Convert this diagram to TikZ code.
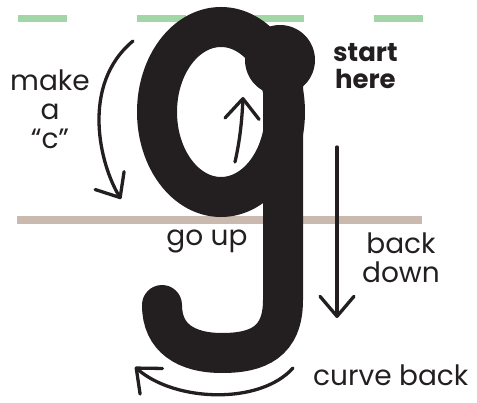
\documentclass[tikz,border=0pt]{standalone}
\usepackage{fontspec}
\setmainfont{Poppins}
\usepackage{tikz}
\usetikzlibrary{arrows.meta}
\definecolor{ink}{HTML}{231F20}
\definecolor{guidegreen}{HTML}{A3D6A7}
\definecolor{basetaupe}{HTML}{C9B9AF}

\begin{document}
\begin{tikzpicture}[
  x=1pt, y=-1pt,
  every node/.style={inner sep=0pt, text=ink, align=center},
  note/.style={font=\fontsize{28}{29}\selectfont},
  stroke/.style={draw=ink, line width=40pt},
  move/.style={draw=ink, line width=3.3pt, line cap=round, -{Straight Barb[length=20pt,width=34pt,round]}},
  ]
  \useasboundingbox (0,0) rectangle (477,403);
  % guide lines
  \foreach \gx in {18,136.5,255,373.5}
    \draw[guidegreen, line width=7pt] (\gx,18.5) -- ++(49,0);
  \draw[basetaupe, line width=7.5pt] (17,220) -- (422,220);
  % the letter
  \draw[stroke] (221,112) ellipse [x radius=64, y radius=85];
  \draw[stroke, line cap=round] (283,60) -- (283,300) .. controls (283,342) and (258,353) .. (222,353) .. controls (186,353) and (162,338) .. (162,305);
  \fill[ink] (280,60) circle (35);
  % labels
  \node[note, anchor=north] (makec) at (50,70) {make\\a\\“c”};
  \node[note, anchor=north west, font=\fontsize{26}{27}\selectfont\bfseries] (starthere) at (333,43) {start\\here};
  \node[note, anchor=north] (goup) at (207,230) {go up};
  \node[note, anchor=north] (backdown) at (401,233) {back\\down};
  \node[note, anchor=north west] (curveback) at (313,365) {curve back};
  % strokes to follow
  \draw[move] (133,41) .. controls (80,85) and (100,165) .. (121,199);
  \draw[move] (235,162) .. controls (240,140) and (242,120) .. (243,97);
  \draw[move] (337,147) -- (337,318);
  \draw[move] (293,368) .. controls (260,405) and (175,402) .. (135,367);
\end{tikzpicture}
\end{document}
